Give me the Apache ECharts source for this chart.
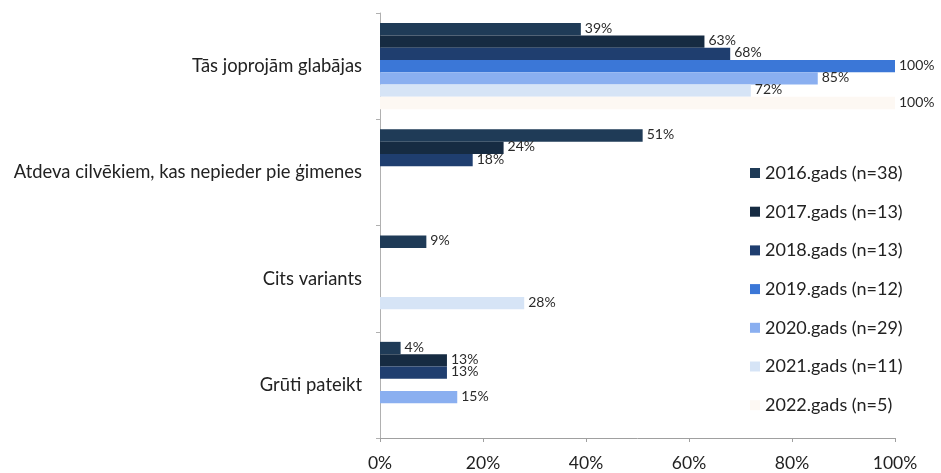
<!DOCTYPE html>
<html>
<head>
<meta charset="utf-8">
<script src="https://cdn.jsdelivr.net/npm/echarts@6/dist/echarts.min.js"></script>
<style>
  html, body { margin: 0; padding: 0; background: #ffffff; }
  #chart { width: 941px; height: 473px; }
</style>
</head>
<body>
<div id="chart"></div>
<script>
// Answer categories, top to bottom
const categories = [
  'Tās joprojām glabājas',
  'Atdeva cilvēkiem, kas nepieder pie ģimenes',
  'Cits variants',
  'Grūti pateikt'
];

// Survey waves
const seriesNames = [
  '2016.gads (n=38)',
  '2017.gads (n=13)',
  '2018.gads (n=13)',
  '2019.gads (n=12)',
  '2020.gads (n=29)',
  '2021.gads (n=11)',
  '2022.gads (n=5)'
];

// Shares (%) per category for each wave; null = no answer recorded
const v2016 = [39, 51, 9, 4];
const v2017 = [63, 24, null, 13];
const v2018 = [68, 18, null, 13];
const v2019 = [100, null, null, null];
const v2020 = [85, null, null, 15];
const v2021 = [72, null, 28, null];
const v2022 = [100, null, null, null];

const seriesValues = [v2016, v2017, v2018, v2019, v2020, v2021, v2022];
const seriesColors = ['#1f3b57', '#162b42', '#1f3e6f', '#3b77d7', '#8aaff0', '#d6e4f6', '#fdf8f3'];

const xTicks = [0, 20, 40, 60, 80, 100];

const FONT = 'Lato, "Open Sans", sans-serif';

const chart = echarts.init(document.getElementById('chart'), null, { renderer: 'canvas' });

const series = seriesNames.map((name, i) => ({
  name: name,
  type: 'bar',
  data: seriesValues[i],
  barGap: '0%',
  barCategoryGap: '19%',
  itemStyle: { color: seriesColors[i] },
  label: {
    show: true,
    position: 'right',
    distance: 4,
    offset: [0, -1],
    formatter: p => (p.value == null ? '' : p.value + '%'),
    color: '#2a2a2a',
    fontFamily: FONT,
    fontSize: 14
  },
  emphasis: { disabled: true }
}));

chart.setOption({
  animation: false,
  backgroundColor: '#ffffff',
  grid: { left: 380, right: 46, top: 13, bottom: 35, containLabel: false },
  legend: {
    orient: 'vertical',
    left: 745,
    top: 158,
    itemWidth: 10,
    itemHeight: 10,
    itemGap: 18.7,
    icon: 'rect',
    textStyle: { fontFamily: FONT, fontSize: 18, lineHeight: 20, color: '#222' },
    data: seriesNames
  },
  xAxis: {
    type: 'value',
    min: xTicks[0],
    max: xTicks[xTicks.length - 1],
    interval: 20,
    splitLine: { show: false },
    axisLine: { show: true, lineStyle: { color: '#a0a0a0' } },
    axisTick: { show: true, length: 4, lineStyle: { color: '#a0a0a0' } },
    axisLabel: {
      formatter: v => v + '%',
      fontFamily: FONT,
      fontSize: 17.5,
      color: '#222',
      margin: 16
    }
  },
  yAxis: {
    type: 'category',
    data: categories,
    inverse: true,
    axisLine: { show: true, lineStyle: { color: '#b0b0b0' } },
    axisTick: { show: true, length: 4, lineStyle: { color: '#b0b0b0' } },
    axisLabel: {
      fontFamily: FONT,
      fontSize: 18.4,
      color: '#222',
      margin: 18
    }
  },
  series: series
});
</script>
</body>
</html>
